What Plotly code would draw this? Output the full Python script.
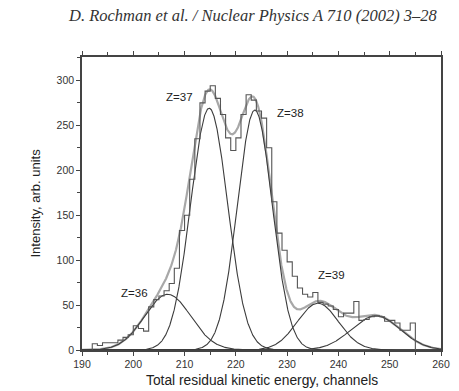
import numpy as np
import plotly.graph_objects as go

# Measured histogram: counts per channel, bins [c, c+1)
bin_start = list(range(192, 255))
counts = [7, 5, 8, 8, 8, 11, 14, 17, 27, 24,
          21, 48, 56, 60, 66, 74, 91, 133, 150, 190,
          235, 275, 288, 294, 280, 262, 236, 222, 236, 262,
          284, 278, 266, 258, 225, 165, 130, 111, 98, 82,
          69, 62, 59, 64, 53, 51, 49, 45, 37, 41,
          41, 54, 33, 34, 37, 38, 37, 32, 33, 30,
          22, 22, 30]

# Gaussian components of the fit (one per element Z)
z_labels = ["Z=36", "Z=37", "Z=38", "Z=39", "Z=40"]
peak_channel = [206.7, 214.8, 223.7, 236.0, 247.3]
peak_height = [62, 269, 267, 52, 38]
peak_sigma = [4.5, 3.6, 3.4, 4.0, 4.75]

# Label positions (channel, intensity)
label_text = ["Z=36", "Z=37", "Z=38", "Z=39"]
label_x = [200.2, 209.0, 230.6, 238.6]
label_y = [63, 281, 264, 83]

title_text = "D. Rochman et al. / Nuclear Physics A 710 (2002) 3\u201328"

grid = np.linspace(190, 260, 1401)
components = [h * np.exp(-(grid - c) ** 2 / (2 * s ** 2))
              for c, h, s in zip(peak_channel, peak_height, peak_sigma)]
total = np.sum(components, axis=0)

fig = go.Figure()

# Sum of all components
fig.add_trace(go.Scatter(x=grid, y=total, mode="lines",
                         line=dict(color="#a8a8a8", width=2.2),
                         hoverinfo="skip", showlegend=False))

for lab, comp in zip(z_labels, components):
    fig.add_trace(go.Scatter(x=grid, y=comp, mode="lines", name=lab,
                             line=dict(color="#3c3c3c", width=1.1),
                             showlegend=False))

# Histogram outline
hx = [bin_start[0]] + bin_start + [bin_start[-1] + 1, bin_start[-1] + 1]
hy = [0] + counts + [counts[-1], 0]
fig.add_trace(go.Scatter(x=hx, y=hy, mode="lines", line_shape="hv",
                         line=dict(color="#555555", width=1.1),
                         showlegend=False))

for t, x, y in zip(label_text, label_x, label_y):
    fig.add_annotation(x=x, y=y, text=t, showarrow=False,
                       font=dict(family="Liberation Sans, Arial", size=11.5, color="#222"))

fig.add_annotation(xref="paper", yref="paper", x=0.477, y=1.0, yshift=42,
                   xanchor="center", yanchor="middle",
                   text="<i>" + title_text + "</i>", showarrow=False,
                   font=dict(family="Liberation Serif, Times New Roman", size=16.5, color="#333"))
fig.add_annotation(xref="paper", yref="paper", x=0.5, y=0, yshift=-30,
                   xanchor="center", yanchor="middle",
                   text="Total residual kinetic energy, channels", showarrow=False,
                   font=dict(family="Liberation Sans, Arial", size=13.8, color="#222"))
fig.add_annotation(xref="paper", yref="paper", x=0, y=0.5, xshift=-47,
                   xanchor="center", yanchor="middle",
                   text="Intensity, arb. units", textangle=-90, showarrow=False,
                   font=dict(family="Liberation Sans, Arial", size=13, color="#222"))

axis_common = dict(showgrid=False, zeroline=False, showline=True,
                   linecolor="#444", linewidth=1.6, ticks="outside",
                   ticklen=4, tickwidth=1.3, tickcolor="#444",
                   tickfont=dict(family="Liberation Sans, Arial", size=10.5, color="#333"))

fig.update_xaxes(range=[190, 260], tick0=190, dtick=10, mirror="ticks",
                 minor=dict(dtick=5, ticks="outside", ticklen=3, tickcolor="#444"),
                 **axis_common)
fig.update_yaxes(range=[0, 326], tick0=0, dtick=50, mirror=True,
                 minor=dict(dtick=25, ticks="outside", ticklen=3, tickcolor="#444"),
                 **axis_common)

fig.update_layout(width=459, height=391,
                  margin=dict(l=82, r=9, t=57, b=41),
                  paper_bgcolor="white", plot_bgcolor="white")

fig.write_html("out.html")
